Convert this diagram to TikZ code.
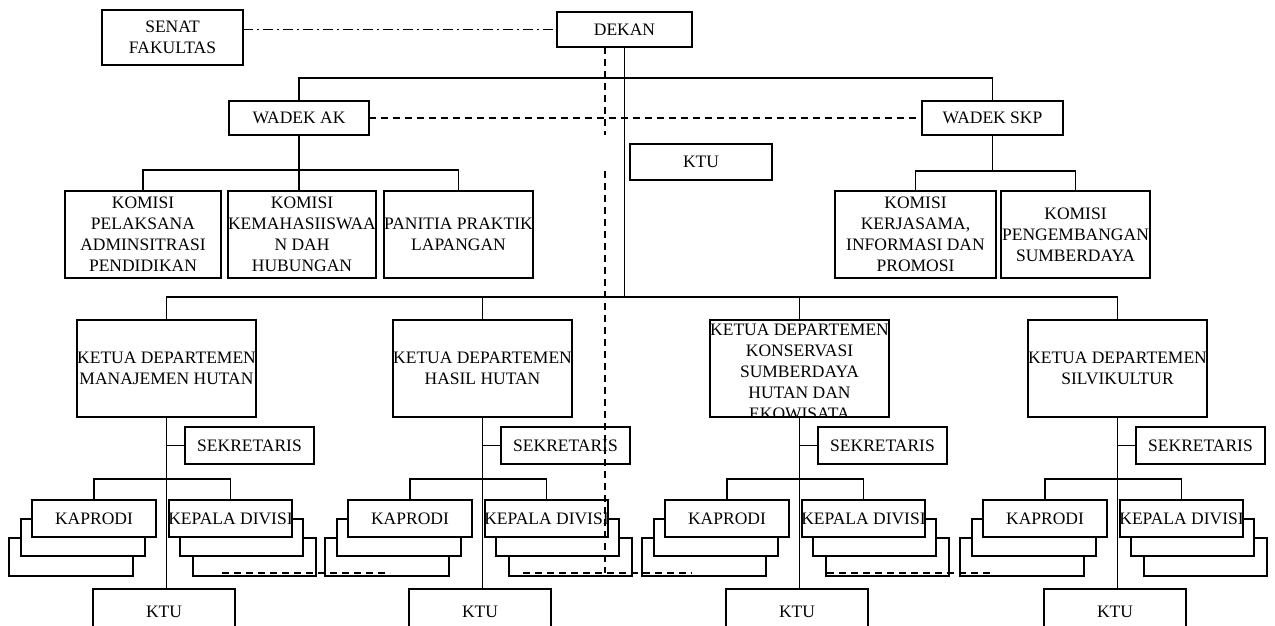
\documentclass[tikz,border=0pt]{standalone}
\usepackage{fontspec}
\setmainfont{Liberation Serif}
\tikzset{
  bx/.style={draw, line width=1.6pt, fill=white, inner sep=0pt, outer sep=0pt, rectangle},
  txt/.style={align=center, inner sep=0pt, font=\fontsize{17.5}{21}\selectfont},
  conn/.style={line width=1.6pt},
  dsh/.style={line width=1.6pt, dash pattern=on 7pt off 5pt},
  dshdot/.style={line width=1.5pt, dash pattern=on 10pt off 4pt on 2pt off 4pt},
}
% box: name, x1, y1, x2, y2, text (text centred, clipped to box)
\newcommand\bx[6]{%
  \pgfmathsetmacro\bw{(#4)-(#2)}\pgfmathsetmacro\bh{(#5)-(#3)}%
  \node[bx, minimum width=\bw pt, minimum height=\bh pt] (#1) at ({((#2)+(#4))/2},{((#3)+(#5))/2}) {};
  \begin{scope}
    \clip (#1.north west) rectangle (#1.south east);
    \node[txt] (#1-t) at (#1.center) {#6};
  \end{scope}}
% box with text from the top
\newcommand\bxt[6]{%
  \pgfmathsetmacro\bw{(#4)-(#2)}\pgfmathsetmacro\bh{(#5)-(#3)}%
  \node[bx, minimum width=\bw pt, minimum height=\bh pt] (#1) at ({((#2)+(#4))/2},{((#3)+(#5))/2}) {};
  \begin{scope}
    \clip (#1.north west) rectangle (#1.south east);
    \node[txt, anchor=north] (#1-t) at ([yshift=-4pt]#1.north) {#6};
  \end{scope}}
% department sub-structure: dept node name, x of its vertical line
\newcommand\dsub[2]{%
  \def\dX{#2}%
  \bx{#1s}{\dX+19}{427}{\dX+148}{464}{SEKRETARIS}
  \bx{#1pc}{\dX-157}{538}{\dX-33}{576}{}
  \bx{#1pb}{\dX-145}{519}{\dX-21}{556}{}
  \bx{#1pa}{\dX-134}{500}{\dX-10}{537}{KAPRODI}
  \bx{#1vc}{\dX+27}{538}{\dX+150}{576}{}
  \bx{#1vb}{\dX+14}{519}{\dX+137}{556}{}
  \bx{#1va}{\dX+3}{500}{\dX+126}{537}{KEPALA DIVISI}
  \bx{#1k}{\dX-73}{589}{\dX+69}{634}{KTU}
  \coordinate (#1bus) at (\dX,479);
  \draw[conn] (#1.south) -- (#1.south |- #1k.north);
  \draw[conn] (#1.south |- #1s.west) -- (#1s.west);
  \draw[conn] (#1pa.north) -- (#1pa.north |- #1bus) -- (#1va.north |- #1bus) -- (#1va.north);
}
\begin{document}
\begin{tikzpicture}[x=1pt,y=-1pt]
\clip (0,0) rectangle (1275,625);
\fill[white] (0,0) rectangle (1275,625);

% top level
\bx{senat}{102}{10}{243}{65}{SENAT\\FAKULTAS}
\bx{dekan}{557}{12}{692}{47}{DEKAN}
\bx{wak}{229}{101}{369}{135}{WADEK AK}
\bx{wsk}{922}{101}{1063}{135}{WADEK SKP}
\bx{ktu}{630}{144}{772}{180}{KTU}

% commissions
\bx{k1}{65}{191}{221}{278}{KOMISI\\PELAKSANA\\ADMINSITRASI\\PENDIDIKAN}
\bx{k2}{228}{191}{376}{278}{KOMISI\\KEMAHASIISWAA\\N DAH\\HUBUNGAN}
\bx{k3}{384}{191}{533}{278}{PANITIA PRAKTIK\\LAPANGAN}
\bx{r1}{835}{191}{996}{278}{KOMISI\\KERJASAMA,\\INFORMASI DAN\\PROMOSI}
\bx{r2}{1001}{191}{1150}{278}{KOMISI\\PENGEMBANGAN\\SUMBERDAYA}

% departments
\bx{d1}{77}{320}{256}{417}{KETUA DEPARTEMEN\\MANAJEMEN HUTAN}
\bx{d2}{393}{320}{572}{417}{KETUA DEPARTEMEN\\HASIL HUTAN}
\bxt{d3}{710}{320}{889}{417}{KETUA DEPARTEMEN\\KONSERVASI\\SUMBERDAYA\\HUTAN DAN\\EKOWISATA}
\bx{d4}{1028}{320}{1207}{417}{KETUA DEPARTEMEN\\SILVIKULTUR}

\dsub{d1}{166}
\dsub{d2}{482}
\dsub{d3}{799}
\dsub{d4}{1117}

% bus levels
\coordinate (busA) at (0,78);
\coordinate (busB) at (0,170);
\coordinate (busC) at (0,171);
\coordinate (busD) at (0,297);

\draw[dshdot] (senat.east |- dekan.west) -- (dekan.west);
\draw[conn] (dekan.south) -- (dekan.south |- busD);
\draw[conn] (wak.north) -- (wak.north |- busA) -- (wsk.north |- busA) -- (wsk.north);
\draw[dsh] (wak.east) -- (wsk.west);
\draw[conn] (wak.south) -- (k2.north -| wak.south);
\draw[conn] (k1.north) -- (k1.north |- busB) -- (k3.north |- busB) -- (k3.north);
\draw[conn] (wsk.south) -- (wsk.south |- busC);
\draw[conn] (r1.north) -- (r1.north |- busC) -- (r2.north |- busC) -- (r2.north);
\draw[conn] (d1.north) -- (d1.north |- busD) -- (d4.north |- busD) -- (d4.north);
\draw[conn] (d2.north) -- (d2.north |- busD);
\draw[conn] (d3.north) -- (d3.north |- busD);

% dashed lines
\coordinate (v1) at (605,135);
\coordinate (v2) at (605,171);
\coordinate (v3) at (605,573);
\draw[dsh] (dekan.south -| v1) -- (v1);
\draw[dsh] (v2) -- (v3);
\coordinate (h1a) at (222,573); \coordinate (h1b) at (390,573);
\coordinate (h2a) at (523,573); \coordinate (h2b) at (692,573);
\coordinate (h3a) at (827,573); \coordinate (h3b) at (992,573);
\draw[dsh] (h1a) -- (h1b);
\draw[dsh] (h2a) -- (h2b);
\draw[dsh] (h3a) -- (h3b);
\end{tikzpicture}
\end{document}
